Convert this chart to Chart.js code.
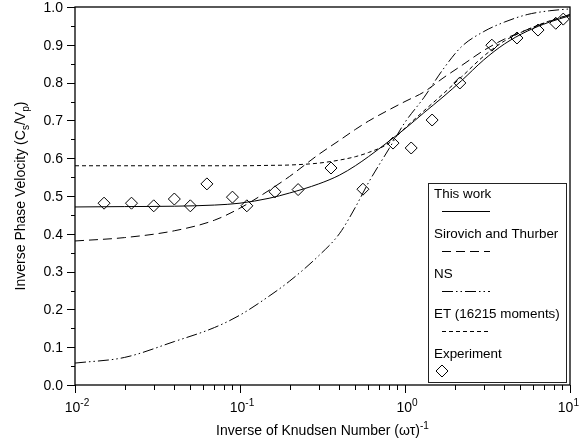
<!DOCTYPE html>
<html>
<head>
<meta charset="utf-8">
<script src="https://cdn.jsdelivr.net/npm/chart.js@4"></script>
<style>
  html, body { margin: 0; padding: 0; background: #fff; }
  #wrap { width: 580px; height: 442px; }
</style>
</head>
<body>
<div id="wrap"><canvas id="chart" width="580" height="442"></canvas></div>
<script>
// inverse Knudsen number, shared by the model curves
const kn = [0.01, 0.02, 0.04, 0.07, 0.1, 0.15, 0.2, 0.3, 0.4, 0.5, 0.6, 0.8, 1, 1.3, 1.7, 2.2, 3, 4, 5.5, 7.5, 10];
const thisWork = [0.471, 0.472, 0.473, 0.476, 0.481, 0.494, 0.508, 0.532, 0.555, 0.580, 0.604, 0.645, 0.678, 0.720, 0.762, 0.805, 0.860, 0.902, 0.936, 0.960, 0.977];
const sirovich = [0.381, 0.390, 0.408, 0.436, 0.468, 0.515, 0.552, 0.610, 0.647, 0.676, 0.698, 0.728, 0.750, 0.775, 0.812, 0.845, 0.885, 0.915, 0.940, 0.962, 0.980];
const nsTheory = [0.058, 0.073, 0.115, 0.152, 0.185, 0.235, 0.275, 0.342, 0.400, 0.470, 0.535, 0.625, 0.695, 0.760, 0.835, 0.895, 0.935, 0.960, 0.980, 0.990, 0.995];
const etMoments = [0.580, 0.580, 0.580, 0.580, 0.580, 0.581, 0.582, 0.587, 0.595, 0.604, 0.615, 0.640, 0.680, 0.725, 0.770, 0.815, 0.870, 0.910, 0.940, 0.963, 0.980];

// experiment
const expX = [0.015, 0.022, 0.030, 0.040, 0.050, 0.063, 0.090, 0.110, 0.163, 0.225, 0.356, 0.556, 0.846, 1.09, 1.46, 2.15, 3.36, 4.77, 6.4, 8.2, 9.1];
const expY = [0.481, 0.481, 0.474, 0.492, 0.474, 0.532, 0.497, 0.474, 0.511, 0.517, 0.574, 0.518, 0.640, 0.627, 0.701, 0.799, 0.899, 0.918, 0.939, 0.957, 0.968];

const yTicks = [0, 0.1, 0.2, 0.3, 0.4, 0.5, 0.6, 0.7, 0.8, 0.9, 1.0];
const xDecades = [-2, -1, 0, 1];

const FONT = '"Liberation Sans", Arial, sans-serif';

const pts = (xs, ys) => xs.map((x, i) => ({ x: x, y: ys[i] }));

const curve = (label, ys, dash) => ({
    label: label,
    data: pts(kn, ys),
    showLine: true,
    borderColor: '#000',
    borderWidth: 1,
    borderDash: dash,
    pointRadius: 0,
    fill: false,
    cubicInterpolationMode: 'monotone'
});

const NS_DASH = [11, 3, 1.5, 3, 1.5, 3];
const SIR_DASH = [9, 5];
const ET_DASH = [4, 3];

// text helper: base text with raised / lowered pieces
function richText(ctx, parts, x, y, size, align) {
    let total = 0;
    parts.forEach(p => {
        ctx.font = (p.s ? size * 0.72 : size) + 'px ' + FONT;
        p.w = ctx.measureText(p.t).width;
        total += p.w;
    });
    let cx = align === 'center' ? x - total / 2 : (align === 'right' ? x - total : x);
    ctx.textAlign = 'left';
    ctx.textBaseline = 'alphabetic';
    parts.forEach(p => {
        ctx.font = (p.s ? size * 0.72 : size) + 'px ' + FONT;
        let dy = p.s === 'sup' ? -size * 0.42 : (p.s === 'sub' ? size * 0.25 : 0);
        ctx.fillText(p.t, cx, y + dy);
        cx += p.w;
    });
}

const frame = {
    id: 'frame',
    afterDraw(chart) {
        const ctx = chart.ctx;
        const a = chart.chartArea;
        const xs = chart.scales.x, ys = chart.scales.y;
        ctx.save();
        ctx.strokeStyle = '#000';
        ctx.fillStyle = '#000';
        ctx.lineWidth = 1.3;
        ctx.strokeRect(a.left, a.top, a.right - a.left, a.bottom - a.top);

        // y ticks
        ctx.lineWidth = 1;
        for (let i = 0; i <= 20; i++) {
            const py = Math.round(ys.getPixelForValue(i * 0.05)) + 0.5;
            const len = i % 2 === 0 ? 8 : 4;
            ctx.beginPath();
            ctx.moveTo(a.left - len, py);
            ctx.lineTo(a.left, py);
            ctx.stroke();
        }
        ctx.font = '14px ' + FONT;
        ctx.textAlign = 'right';
        ctx.textBaseline = 'middle';
        yTicks.forEach(v => {
            ctx.fillText(v.toFixed(1), a.left - 12, ys.getPixelForValue(v) + 1);
        });

        // x ticks
        xDecades.forEach((d, k) => {
            const last = k === xDecades.length - 1;
            for (let m = 1; m <= 9; m++) {
                if (last && m > 1) break;
                const px = Math.round(xs.getPixelForValue(m * Math.pow(10, d))) + 0.5;
                const len = m === 1 ? 8 : 5;
                ctx.beginPath();
                ctx.moveTo(px, a.bottom);
                ctx.lineTo(px, a.bottom + len);
                ctx.stroke();
            }
            const lab = [{ t: '10' }, { t: String(d), s: 'sup' }];
            if (last) richText(ctx, lab, 579, a.bottom + 27, 14, 'right');
            else richText(ctx, lab, xs.getPixelForValue(Math.pow(10, d)) + 2, a.bottom + 27, 14, 'center');
        });

        // axis titles
        richText(ctx, [{ t: 'Inverse of Knudsen Number (ωτ)' }, { t: '-1', s: 'sup' }],
            (a.left + a.right) / 2, 435, 14, 'center');
        ctx.save();
        ctx.translate(25, (a.top + a.bottom) / 2);
        ctx.rotate(-Math.PI / 2);
        richText(ctx, [{ t: 'Inverse Phase Velocity (C' }, { t: 's', s: 'sub' }, { t: '/V' }, { t: 'p', s: 'sub' }, { t: ')' }],
            0, 0, 14, 'center');
        ctx.restore();

        // legend
        const lx = 428, ly = 183, lw = 138, lh = 199;
        ctx.fillStyle = '#fff';
        ctx.fillRect(lx, ly, lw, lh);
        ctx.strokeStyle = '#222';
        ctx.lineWidth = 1;
        ctx.strokeRect(lx + 0.5, ly + 0.5, lw, lh);
        const items = [
            { t: 'This work', dash: [] },
            { t: 'Sirovich and Thurber', dash: SIR_DASH },
            { t: 'NS', dash: NS_DASH },
            { t: 'ET (16215 moments)', dash: ET_DASH },
            { t: 'Experiment', marker: true }
        ];
        ctx.font = '13.4px ' + FONT;
        ctx.textAlign = 'left';
        ctx.textBaseline = 'alphabetic';
        items.forEach((it, i) => {
            const by = 198 + i * 40;
            ctx.fillStyle = '#000';
            ctx.fillText(it.t, 434, by);
            const sy = by + 13;
            ctx.strokeStyle = '#000';
            if (it.marker) {
                ctx.setLineDash([]);
                ctx.beginPath();
                ctx.moveTo(442, sy - 6);
                ctx.lineTo(448, sy);
                ctx.lineTo(442, sy + 6);
                ctx.lineTo(436, sy);
                ctx.closePath();
                ctx.stroke();
            } else {
                ctx.setLineDash(it.dash);
                ctx.beginPath();
                ctx.moveTo(442, sy + 0.5);
                ctx.lineTo(490, sy + 0.5);
                ctx.stroke();
            }
        });
        ctx.restore();
    }
};

new Chart(document.getElementById('chart'), {
    type: 'scatter',
    data: {
        datasets: [
            curve('This work', thisWork, []),
            curve('Sirovich and Thurber', sirovich, SIR_DASH),
            curve('NS', nsTheory, NS_DASH),
            curve('ET (16215 moments)', etMoments, ET_DASH),
            {
                label: 'Experiment',
                data: pts(expX, expY),
                pointStyle: 'rectRot',
                pointRadius: 6,
                pointBorderWidth: 1,
                pointBorderColor: '#000',
                pointBackgroundColor: 'rgba(255,255,255,0)'
            }
        ]
    },
    options: {
        responsive: false,
        animation: false,
        layout: { padding: { left: 75, right: 10, top: 7, bottom: 57 } },
        plugins: { legend: { display: false }, tooltip: { enabled: false } },
        scales: {
            x: { type: 'logarithmic', min: 0.01, max: 10, display: false },
            y: { type: 'linear', min: 0, max: 1, display: false }
        }
    },
    plugins: [frame]
});
</script>
</body>
</html>
